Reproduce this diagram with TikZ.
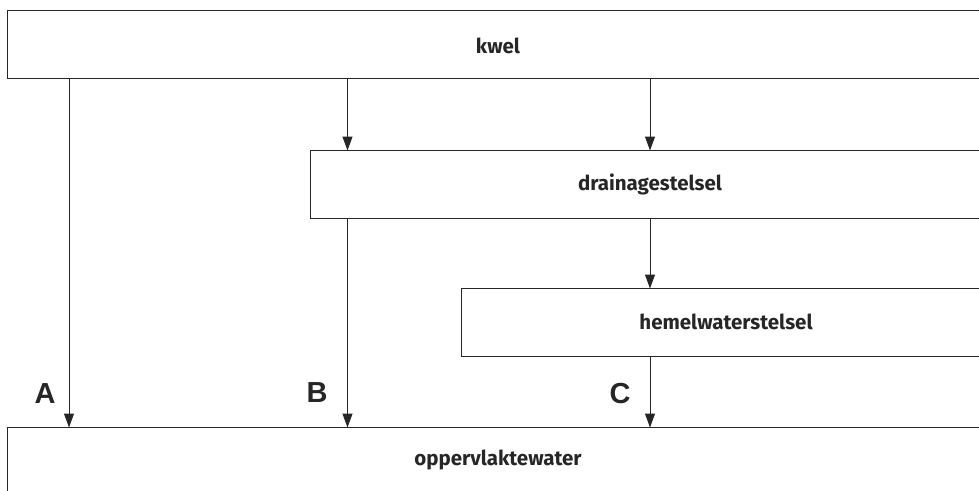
\documentclass[tikz,border=0pt]{standalone}
\usepackage{fontspec}
\setmainfont{Fira Sans}
\newfontfamily\letterfont{Liberation Sans}
\usetikzlibrary{arrows.meta}
\begin{document}
\begin{tikzpicture}[x=1pt,y=-1pt,
  boxline/.style={draw=black!85,line width=1pt},
  boxtext/.style={font=\fontsize{20.5}{24}\selectfont\bfseries,text=black!85},
  flow/.style={draw=black!85,line width=1pt,-{Triangle[length=14pt,width=10pt]}},
  lettertext/.style={font=\letterfont\fontsize{29}{32}\selectfont\bfseries,text=black!85}]
\useasboundingbox (0,0) rectangle (979,490);
\clip (0,0) rectangle (979,490);
% boxes
\draw[boxline] (7.5,10.5) rectangle (990,78.5);
\node[boxtext] (kwel) at (498,46) {kwel};
\draw[boxline] (310.5,150.5) rectangle (990,218);
\node[boxtext] (drain) at (650,184) {drainagestelsel};
\draw[boxline] (461,288.5) rectangle (990,356.5);
\node[boxtext] (hemel) at (726,322) {hemelwaterstelsel};
\draw[boxline] (7.5,427.5) rectangle (990,520);
\node[boxtext] (opp) at (498,460) {oppervlaktewater};
% connector end points
\coordinate (kA) at (69,78.5);
\coordinate (oA) at (69,427.5);
\coordinate (kB) at (347.5,78.5);
\coordinate (dBt) at (347.5,150.5);
\coordinate (dBb) at (347.5,218);
\coordinate (oB) at (347.5,427.5);
\coordinate (kC) at (650,78.5);
\coordinate (dCt) at (650,150.5);
\coordinate (dCb) at (650,218);
\coordinate (hCt) at (650,288.5);
\coordinate (hCb) at (650,356.5);
\coordinate (oC) at (650,427.5);
\draw[flow] (kA) -- (oA);
\draw[flow] (kB) -- (dBt);
\draw[flow] (kC) -- (dCt);
\draw[flow] (dBb) -- (oB);
\draw[flow] (dCb) -- (hCt);
\draw[flow] (hCb) -- (oC);
% letters
\node[lettertext] (A) at (45,393.5) {A};
\node[lettertext] (B) at (317,393) {B};
\node[lettertext] (C) at (620,393.5) {C};
\end{tikzpicture}
\end{document}
